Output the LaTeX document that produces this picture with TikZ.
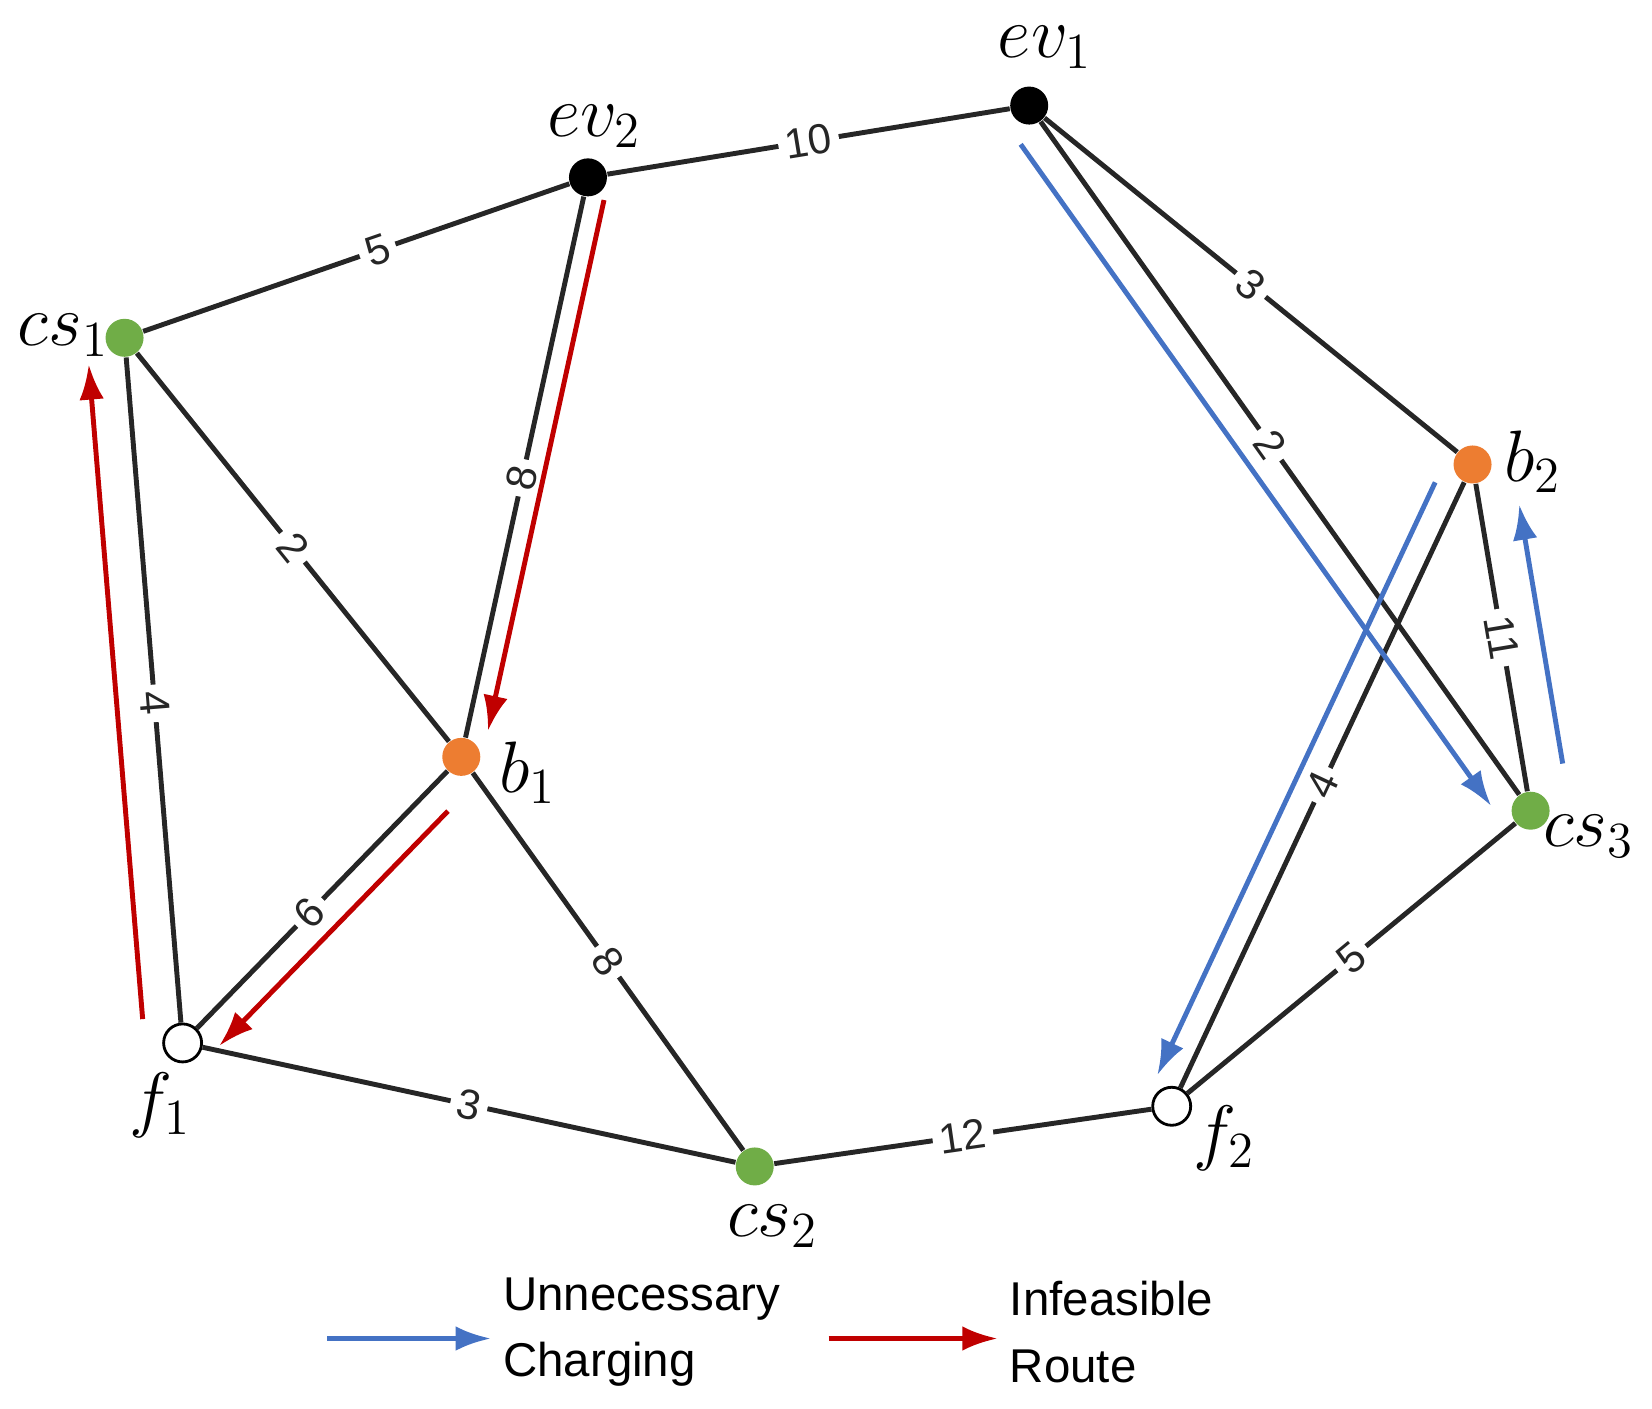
\documentclass[tikz,border=0pt]{standalone}
\usepackage{fontspec}
\setsansfont{Liberation Sans}
\usetikzlibrary{arrows.meta}
\definecolor{csgreen}{RGB}{112,173,71}
\definecolor{borange}{RGB}{237,125,49}
\definecolor{ublue}{RGB}{68,114,196}
\definecolor{ired}{RGB}{192,0,0}
\begin{document}
\begin{tikzpicture}[x=0.01056cm, y=-0.01056cm,
    vtx/.style={circle, inner sep=0pt, minimum size=0.38cm},
    edge/.style={line width=1.4pt, black!85},
    wlab/.style={sloped, fill=white, inner sep=2pt, font=\sffamily\fontsize{12}{12}\selectfont},
    blab/.style={font=\fontsize{21}{21}\selectfont},
    blue arrow/.style={line width=1.4pt, ublue, -{Latex[length=10pt,width=7pt]}},
    red arrow/.style={line width=1.4pt, ired, -{Latex[length=10pt,width=7pt]}}]

    \useasboundingbox (0,0) rectangle (1565,1334);

    % vertices
    \node[vtx, fill=black] (ev1) at (975,100) {};
    \node[vtx, fill=black] (ev2) at (557,168) {};
    \node[vtx, fill=csgreen] (cs1) at (118,320) {};
    \node[vtx, fill=borange] (b1) at (437,717) {};
    \node[vtx, draw=black, thick, fill=white] (f1) at (173,988) {};
    \node[vtx, fill=csgreen] (cs2) at (715,1105) {};
    \node[vtx, draw=black, thick, fill=white] (f2) at (1110,1048) {};
    \node[vtx, fill=csgreen] (cs3) at (1450,768) {};
    \node[vtx, fill=borange] (b2) at (1395,440) {};

    % vertex labels
    \node[blab] (lev1) at (990,45) {$ev_1$};
    \node[blab] (lev2) at (563,120) {$ev_2$};
    \node[blab] (lcs1) at (60,318) {$cs_1$};
    \node[blab] (lb1) at (500,732) {$b_1$};
    \node[blab] (lf1) at (152,1047) {$f_1$};
    \node[blab] (lcs2) at (732,1162) {$cs_2$};
    \node[blab] (lf2) at (1160,1078) {$f_2$};
    \node[blab] (lcs3) at (1505,792) {$cs_3$};
    \node[blab] (lb2) at (1452,437) {$b_2$};

    % edges
    \draw[edge] (ev2) -- node[wlab] {10} (ev1);
    \draw[edge] (cs1) -- node[wlab, pos=0.55] {5} (ev2);
    \draw[edge] (ev1) -- node[wlab, pos=0.5] {3} (b2);
    \draw[edge] (ev1) -- node[wlab, pos=0.48] {2} (cs3);
    \draw[edge] (ev2) -- node[wlab, pos=0.52] {8} (b1);
    \draw[edge] (cs1) -- node[wlab, pos=0.5] {2} (b1);
    \draw[edge] (cs1) -- node[wlab, pos=0.52] {4} (f1);
    \draw[edge] (b1) -- node[wlab, pos=0.55] {6} (f1);
    \draw[edge] (b1) -- node[wlab, pos=0.5] {8} (cs2);
    \draw[edge] (f1) -- node[wlab, pos=0.5] {3} (cs2);
    \draw[edge] (cs2) -- node[wlab, pos=0.5] {12} (f2);
    \draw[edge] (f2) -- node[wlab, pos=0.5] {5} (cs3);
    \draw[edge] (f2) -- node[wlab, pos=0.5] {4} (b2);
    \draw[edge] (b2) -- node[wlab, pos=0.5] {11} (cs3);

    % routes
    \draw[red arrow, transform canvas={shift={(0.21cm,0)}}, shorten <=1pt, shorten >=2pt] (ev2) -- (b1);
    \draw[red arrow, transform canvas={shift={(0.2cm,-0.2cm)}}, shorten <=8pt, shorten >=1pt] (b1) -- (f1);
    \draw[red arrow, transform canvas={shift={(-0.38cm,0)}}, shorten <=1pt, shorten >=2pt] (f1) -- (cs1);
    \draw[blue arrow, transform canvas={shift={(-0.24cm,-0.17cm)}}, shorten <=2pt, shorten >=2pt] (ev1) -- (cs3);
    \draw[blue arrow, transform canvas={shift={(-0.29cm,0)}}, shorten <=0pt, shorten >=4pt] (b2) -- (f2);
    \draw[blue arrow, transform canvas={shift={(0.4cm,0)}}, shorten <=8pt, shorten >=6pt] (cs3) -- (b2);

    % legend
    \coordinate (ub) at (310,1268);
    \node[anchor=west, align=left, font=\sffamily\fontsize{13.5}{19}\selectfont] (unc) at (465,1262) {Unnecessary\\Charging};
    \draw[blue arrow] (ub) -- (ub -| unc.west);
    \coordinate (ir) at (785,1268);
    \node[anchor=west, align=left, font=\sffamily\fontsize{13.5}{19}\selectfont] (inf) at (945,1262) {Infeasible\\Route};
    \draw[red arrow] (ir) -- (ir -| inf.west);
\end{tikzpicture}
\end{document}
